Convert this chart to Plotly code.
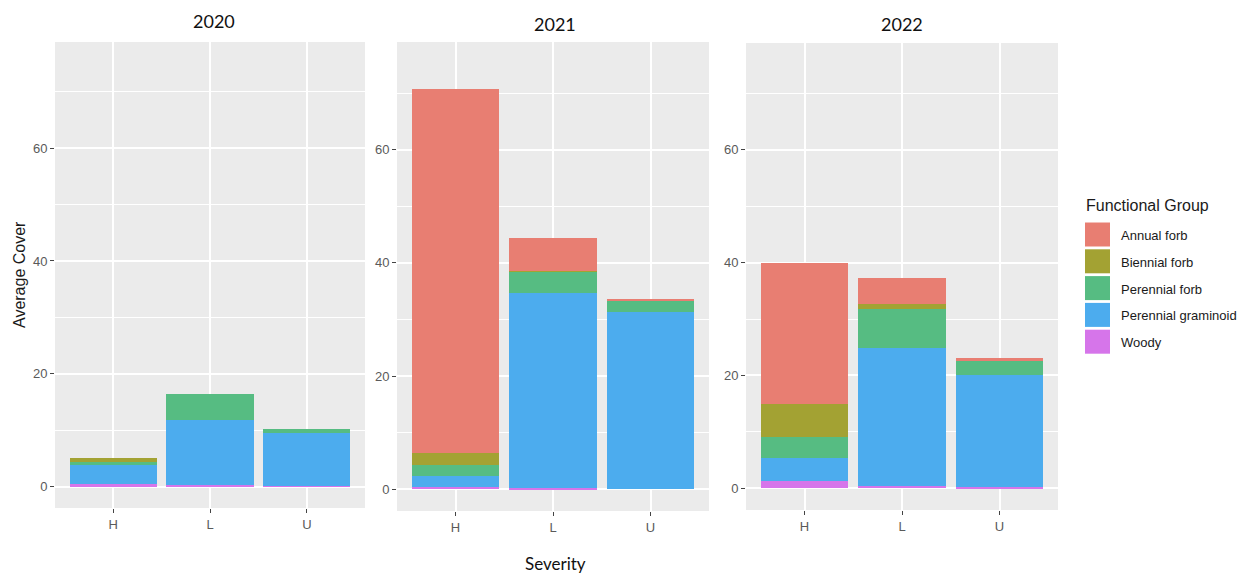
import plotly.graph_objects as go

# ---- data -------------------------------------------------------------
severity = ["H", "L", "U"]
years = ["2020", "2021", "2022"]
# stacking order, bottom to top
groups = ["Woody", "Perennial graminoid", "Perennial forb", "Biennial forb", "Annual forb"]
group_colors = ["#D675EA", "#4CACEE", "#56BC82", "#A3A233", "#E87E72"]

# average cover per functional group at H / L / U severity
cover_2020 = {
    "Woody": [0.47, 0.25, 0.1],
    "Perennial graminoid": [3.37, 11.55, 9.35],
    "Perennial forb": [0.6, 4.6, 0.75],
    "Biennial forb": [0.64, 0.0, 0.0],
    "Annual forb": [0.0, 0.0, 0.0],
}
cover_2021 = {
    "Woody": [0.45, 0.3, 0.0],
    "Perennial graminoid": [1.9, 34.3, 31.3],
    "Perennial forb": [2.0, 3.8, 1.9],
    "Biennial forb": [2.0, 0.1, 0.0],
    "Annual forb": [64.3, 5.95, 0.5],
}
cover_2022 = {
    "Woody": [1.3, 0.46, 0.15],
    "Perennial graminoid": [4.13, 24.44, 19.95],
    "Perennial forb": [3.67, 6.8, 2.5],
    "Biennial forb": [5.85, 1.0, 0.0],
    "Annual forb": [25.0, 4.5, 0.45],
}
year_cover = [cover_2020, cover_2021, cover_2022]

y_major = [0, 20, 40, 60]
y_minor = [10, 30, 50, 70]

# ---- layout helpers ----------------------------------------------------
W, H = 1250, 574


def px(x):
    return x / W


def py(y):
    return 1 - y / H


# panel boxes in pixels (left, right, top, bottom) and value ranges
panels = [
    dict(x=(55, 365), y=(42, 508), yr=(-3.77, 78.8), title_xy=(214, 21)),
    dict(x=(397, 709), y=(42, 511), yr=(-3.83, 79.03), title_xy=(555, 24)),
    dict(x=(746, 1058), y=(43, 510), yr=(-3.85, 78.95), title_xy=(902, 24)),
]

tick_font = dict(family="Liberation Sans, Arial, sans-serif", size=13, color="#5A5A5A")
title_font = dict(family="Lato, Open Sans, sans-serif", size=18, color="#111111")

fig = go.Figure()
layout = dict(
    width=W,
    height=H,
    margin=dict(l=0, r=0, t=0, b=0),
    paper_bgcolor="white",
    plot_bgcolor="#EBEBEB",
    barmode="stack",
    showlegend=False,
    annotations=[],
    shapes=[],
)

for i, (year, cover, p) in enumerate(zip(years, year_cover, panels)):
    sfx = "" if i == 0 else str(i + 1)
    xa, ya = "x" + sfx, "y" + sfx
    for g, c in zip(groups, group_colors):
        fig.add_trace(
            go.Bar(
                x=severity,
                y=cover[g],
                name=g,
                marker=dict(color=c, line=dict(width=0)),
                width=0.9,
                xaxis=xa,
                yaxis=ya,
                hovertemplate=f"{year} %{{x}}<br>{g}: %{{y}}<extra></extra>",
            )
        )
    layout["xaxis" + sfx] = dict(
        domain=[px(p["x"][0]), px(p["x"][1])],
        anchor=ya,
        type="category",
        categoryorder="array",
        categoryarray=severity,
        range=[-0.6, 2.6],
        showgrid=True,
        gridcolor="white",
        gridwidth=1.7,
        showline=False,
        zeroline=False,
        ticks="outside",
        ticklen=4,
        tickwidth=1.2,
        tickcolor="#444444",
        tickfont=tick_font,
    )
    layout["yaxis" + sfx] = dict(
        domain=[py(p["y"][1]), py(p["y"][0])],
        anchor=xa,
        range=list(p["yr"]),
        tickmode="array",
        tickvals=y_major,
        ticktext=[str(v) for v in y_major],
        showgrid=True,
        gridcolor="white",
        gridwidth=1.7,
        zeroline=False,
        showline=False,
        ticks="outside",
        ticklen=4,
        tickwidth=1.2,
        tickcolor="#444444",
        tickfont=tick_font,
        minor=dict(tickvals=y_minor, showgrid=True, gridcolor="white", gridwidth=0.9, ticks=""),
    )
    tx, ty = p["title_xy"]
    layout["annotations"].append(
        dict(text=year, x=px(tx), y=py(ty), xref="paper", yref="paper",
             showarrow=False, xanchor="center", yanchor="middle", font=title_font)
    )

# axis titles
layout["annotations"].append(
    dict(text="Average Cover", x=px(20), y=py(275), xref="paper", yref="paper",
         showarrow=False, textangle=-90, xanchor="center", yanchor="middle",
         font=dict(family="Liberation Sans, Arial, sans-serif", size=16, color="#1A1A1A"))
)
layout["annotations"].append(
    dict(text="Severity", x=px(555), y=py(563), xref="paper", yref="paper",
         showarrow=False, xanchor="center", yanchor="middle",
         font=dict(family="Lato, Open Sans, sans-serif", size=17, color="#111111"))
)

# legend: title, colour keys and labels (top entry is the top of the stack)
layout["annotations"].append(
    dict(text="Functional Group", x=px(1084), y=py(206), xref="paper", yref="paper",
         showarrow=False, xanchor="left", yanchor="middle",
         font=dict(family="Liberation Sans, Arial, sans-serif", size=16, color="#1A1A1A"))
)
key_top, key_pitch, key_h = 222.5, 26.8, 24
for k, (g, c) in enumerate(zip(groups[::-1], group_colors[::-1])):
    top = key_top + k * key_pitch
    layout["shapes"].append(
        dict(type="rect", xref="paper", yref="paper",
             x0=px(1085), x1=px(1110), y0=py(top + key_h), y1=py(top),
             fillcolor=c, line=dict(width=0))
    )
    layout["annotations"].append(
        dict(text=g, x=px(1119), y=py(top + key_h / 2 + 1), xref="paper", yref="paper",
             showarrow=False, xanchor="left", yanchor="middle",
             font=dict(family="Liberation Sans, Arial, sans-serif", size=13, color="#1A1A1A"))
    )

fig.update_layout(**layout)
fig.write_html("out.html")
